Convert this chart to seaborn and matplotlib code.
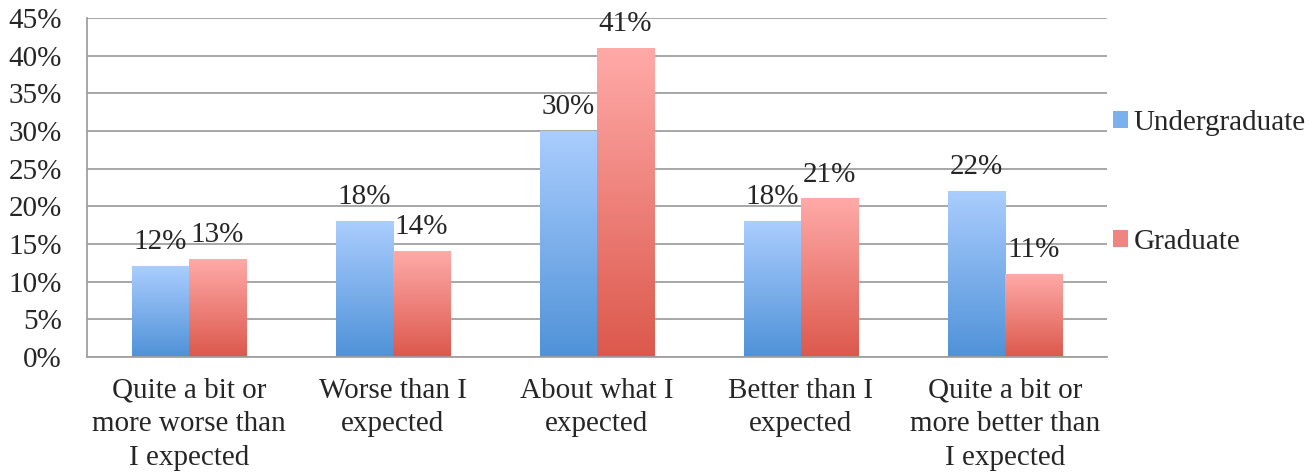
import numpy as np
import pandas as pd
import seaborn as sns
import matplotlib.pyplot as plt
from matplotlib.colors import LinearSegmentedColormap
from matplotlib.ticker import PercentFormatter
from matplotlib.patches import Patch

categories = ["Quite a bit or\nmore worse than\nI expected", "Worse than I\nexpected",
              "About what I\nexpected", "Better than I\nexpected",
              "Quite a bit or\nmore better than\nI expected"]
undergrad = [12, 18, 30, 18, 22]
grad = [13, 14, 41, 21, 11]
series = ["Undergraduate", "Graduate"]

df = pd.DataFrame({
    "cat": categories * 2,
    "value": undergrad + grad,
    "group": [series[0]] * 5 + [series[1]] * 5,
})

sns.set_style("white")
plt.rcParams['font.family'] = ['Liberation Serif', 'DejaVu Serif']
fs = 21

fig = plt.figure(figsize=(13.16, 4.74), dpi=100)
ax = fig.add_axes([0.066, 0.247, 0.775, 0.715])

blue_top, blue_bot = "#aacdfe", "#4f92d8"
red_top, red_bot = "#ffaaa8", "#dc584c"

sns.barplot(data=df, x="cat", y="value", hue="group", order=categories,
            hue_order=series, palette=[blue_bot, red_bot], width=0.56,
            ax=ax, legend=False, saturation=1)

cmaps = {
    0: LinearSegmentedColormap.from_list("b", [blue_bot, blue_top]),
    1: LinearSegmentedColormap.from_list("r", [red_bot, red_top]),
}
grad_img = np.linspace(0, 1, 256).reshape(-1, 1)
for i, cont in enumerate(ax.containers):
    for bar in cont:
        x0, y0 = bar.get_x(), bar.get_y()
        w, h = bar.get_width(), bar.get_height()
        bar.set_facecolor("none")
        bar.set_edgecolor("none")
        ax.imshow(grad_img, cmap=cmaps[i], origin="lower", aspect="auto",
                  extent=[x0, x0 + w, y0, y0 + h], zorder=2)
    labels = [f"{v:.0f}%" for v in cont.datavalues]
    ax.bar_label(cont, labels=labels, padding=8, fontsize=fs)

ax.set_xlim(-0.5, 4.5)
ax.set_ylim(0, 45)
ax.set_yticks(range(0, 46, 5))
ax.yaxis.set_major_formatter(PercentFormatter(decimals=0))
ax.grid(axis="y", color="#a0a0a0", linewidth=1.3, zorder=0)
ax.set_axisbelow(True)
for s in ["top", "right"]:
    ax.spines[s].set_visible(False)
for s in ["left", "bottom"]:
    ax.spines[s].set_color("#a0a0a0")
    ax.spines[s].set_linewidth(1.3)
ax.set_xlabel("")
ax.set_ylabel("")
ax.tick_params(axis="both", labelsize=fs, length=0)
ax.tick_params(axis="y", pad=18)
ax.tick_params(axis="x", pad=15)
for t in ax.get_xticklabels():
    t.set_linespacing(1.38)

handles = [Patch(facecolor="#7ab0ec", edgecolor="none"),
           Patch(facecolor="#ee8580", edgecolor="none")]
fig.legend(handles, series, loc="center left", bbox_to_anchor=(0.826, 0.615),
           frameon=False, fontsize=fs, handlelength=0.5, handleheight=0.5,
           handletextpad=0.2, labelspacing=3.2)

fig.savefig("out.png", dpi=100)
